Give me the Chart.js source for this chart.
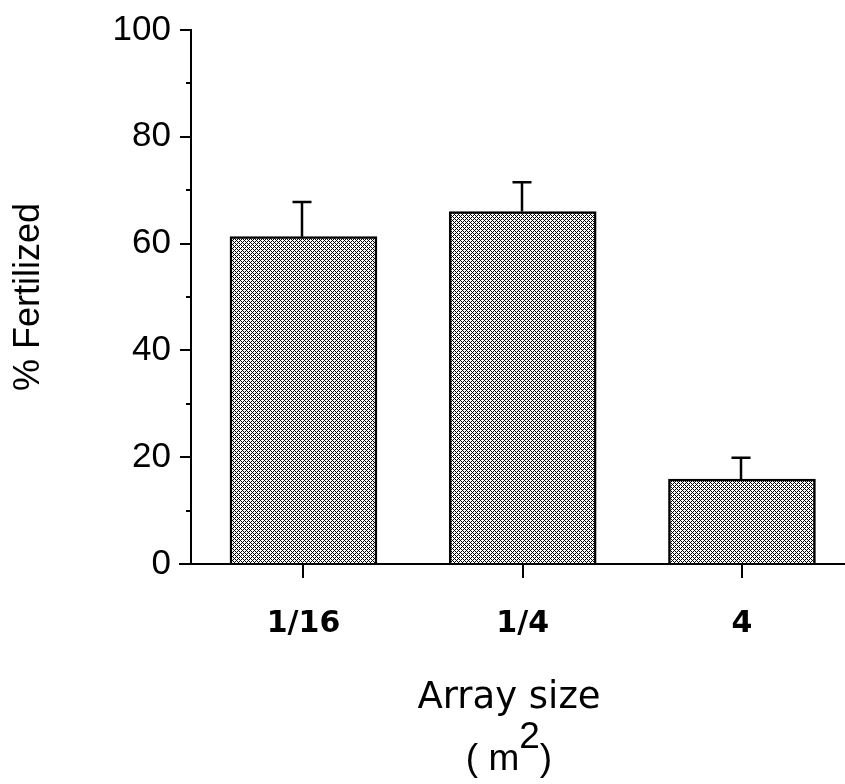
<!DOCTYPE html>
<html>
<head>
<meta charset="utf-8">
<script src="https://cdn.jsdelivr.net/npm/chart.js@4.4.0/dist/chart.umd.min.js"></script>
<style>
  html, body { margin: 0; padding: 0; background: #fff; }
</style>
</head>
<body>
<canvas id="myChart" width="845" height="784"></canvas>
<script>
var sizes = ['1/16', '1/4', '4'];
var fertilized = [61.3, 66.0, 15.9];
var errors = [6.5, 5.5, 4.0];
var minorTicks = [10, 30, 50, 70, 90];

var canvas = document.getElementById('myChart');
var ctx = canvas.getContext('2d');

// fine cross-hatch fill like the scanned figure
function hatch() {
  var c = document.createElement('canvas');
  c.width = 4;
  c.height = 4;
  var g = c.getContext('2d');
  g.fillStyle = '#ffffff';
  g.fillRect(0, 0, 4, 4);
  g.fillStyle = '#000000';
  for (var x = 0; x < 4; x++) {
    for (var y = 0; y < 4; y++) {
      var a = (x + y) % 4, b = (x - y + 4) % 4;
      if (a == 0 || b == 0) g.fillRect(x, y, 1, 1);
    }
  }
  return ctx.createPattern(c, 'repeat');
}

var extras = {
  id: 'extras',
  afterDraw: function(chart) {
    var c = chart.ctx;
    var xs = chart.scales.x;
    var ys = chart.scales.y;
    var area = chart.chartArea;
    c.save();
    c.strokeStyle = '#000';
    c.lineWidth = 2;
    c.beginPath();
    // x axis runs a little past the y axis
    c.moveTo(area.left - 12, area.bottom);
    c.lineTo(area.left, area.bottom);
    // minor ticks on y
    minorTicks.forEach(function(v) {
      var py = Math.round(ys.getPixelForValue(v));
      c.moveTo(area.left - 5, py);
      c.lineTo(area.left, py);
    });
    c.stroke();

    // error bars (upper whisker only)
    c.lineWidth = 2.5;
    c.beginPath();
    fertilized.forEach(function(v, i) {
      var px = Math.round(xs.getPixelForValue(i)) - 1;
      var top = ys.getPixelForValue(v + errors[i]);
      var bot = ys.getPixelForValue(v);
      c.moveTo(px, bot);
      c.lineTo(px, top);
      c.moveTo(px - 9.5, top);
      c.lineTo(px + 9.5, top);
    });
    c.stroke();

    // x axis title
    var cx = (area.left + area.right) / 2 - 9;
    c.fillStyle = '#000';
    c.textAlign = 'center';
    c.textBaseline = 'alphabetic';
    c.font = '37px "DejaVu Sans"';
    c.fillText('Array size', cx, area.bottom + 144);
    c.font = '37px "Liberation Sans"';
    c.textAlign = 'left';
    var w1 = c.measureText('( m').width;
    var w2 = c.measureText('2').width;
    var w3 = c.measureText(')').width;
    var sx = cx - (w1 + w2 + w3) / 2;
    c.fillText('( m', sx, area.bottom + 206);
    c.fillText('2', sx + w1, area.bottom + 184);
    c.fillText(')', sx + w1 + w2, area.bottom + 206);
    c.restore();
  }
};

var myChart = new Chart(ctx, {
  type: 'bar',
  data: {
    datasets: [
      {
        label: '% Fertilized',
        data: fertilized.map(function(v, i) { return { x: i, y: v }; }),
        backgroundColor: hatch(),
        borderColor: '#000',
        borderWidth: 2.5,
        barThickness: 147,
      },
    ],
  },
  options: {
    responsive: false,
    animation: false,
    layout: { padding: { top: 29, right: 0, bottom: 0, left: 0 } },
    plugins: {
      legend: { display: false },
      tooltip: { enabled: false },
    },
    scales: {
      x: {
        type: 'linear',
        offset: false,
        min: -0.513,
        max: 2.47,
        afterBuildTicks: function(scale) {
          scale.ticks = sizes.map(function(s, i) { return { value: i }; });
        },
        afterFit: function(scale) { scale.height = 220; },
        grid: { offset: false, drawOnChartArea: false, drawTicks: true, tickLength: 14, color: '#000', lineWidth: 2 },
        border: { display: true, color: '#000', width: 2 },
        ticks: {
          color: '#000',
          padding: 28,
          maxRotation: 0,
          font: { family: 'DejaVu Sans', size: 30, weight: 'bold' },
          callback: function(v) { return sizes[v]; },
        },
      },
      y: {
        min: 0,
        max: 100,
        afterFit: function(scale) { scale.width = 191; },
        grid: { drawOnChartArea: false, drawTicks: true, tickLength: 11, color: '#000', lineWidth: 2 },
        border: { display: true, color: '#000', width: 2 },
        ticks: {
          stepSize: 20,
          color: '#000',
          padding: 9,
          font: { family: 'Liberation Sans', size: 35 },
        },
        title: {
          display: true,
          text: '% Fertilized',
          color: '#000',
          padding: { top: 7, bottom: 0 },
          font: { family: 'Liberation Sans', size: 36 },
        },
      },
    },
  },
  plugins: [extras],
});
</script>
</body>
</html>
